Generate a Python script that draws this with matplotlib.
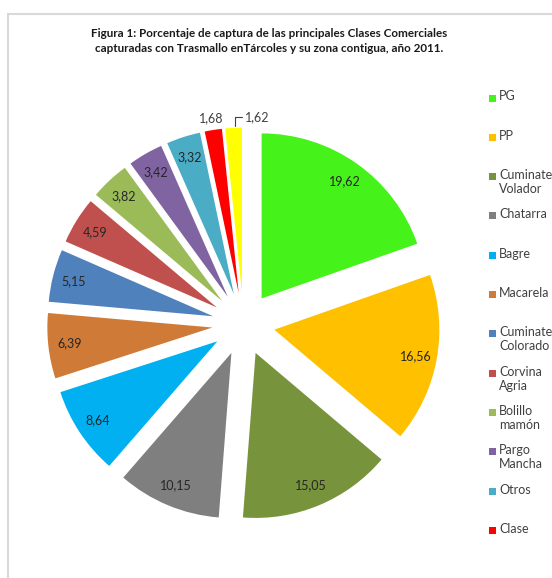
import numpy as np
import matplotlib
matplotlib.use("Agg")
import matplotlib.pyplot as plt
from matplotlib.patches import Rectangle

plt.rcParams['font.family'] = ['Lato', 'DejaVu Sans']

# data
clases = ['PG', 'PP', 'Cuminate\nVolador', 'Chatarra', 'Bagre', 'Macarela',
          'Cuminate\nColorado', 'Corvina\nAgria', 'Bolillo\nmamón',
          'Pargo\nMancha', 'Otros', 'Clase', '']
porcentajes = [19.62, 16.56, 15.05, 10.15, 8.64, 6.39, 5.15, 4.59, 3.82,
               3.42, 3.32, 1.68, 1.62]
colores = ['#45F21A', '#FFC000', '#77933C', '#7F7F7F', '#00B0F0', '#CF7B37',
           '#4F81BD', '#C0504D', '#9BBB59', '#8064A2', '#4BACC6', '#FF0000',
           '#FFFF00']

W, H = 552, 578
fig = plt.figure(figsize=(W / 100, H / 100), dpi=100)

# grey chart frame (cut off at right and bottom)
fig.patches.append(Rectangle((8 / W, -0.1), 1.2, 1.1 - 14 / H, fill=False,
                             edgecolor='#D9D9D9', linewidth=1.5,
                             transform=fig.transFigure, figure=fig))

fig.text(269 / W, 1 - 28 / H,
         'Figura 1: Porcentaje de captura de las principales Clases Comerciales\n'
         'capturadas con Trasmallo enTárcoles y su zona contigua, año 2011.',
         ha='center', va='top', fontsize=8.4, fontweight='bold',
         color='#1a1a1a', linespacing=1.4)

# pie axes: 1 data unit = 165 px, centre at (243.5, 324) px
R = 165.0
cx, cy = 243.5, 324.0
half = 1.45
ax = fig.add_axes([(cx - half * R) / W, (H - cy - half * R) / H,
                   2 * half * R / W, 2 * half * R / H])

wedges, _ = ax.pie(porcentajes, colors=colores, startangle=90,
                   counterclock=False, explode=[0.19] * len(porcentajes),
                   radius=1, wedgeprops=dict(linewidth=0))
# pie() resets the limits, so set them afterwards
ax.set_xlim(-half, half)
ax.set_ylim(-half, half)
ax.set_aspect('equal')
ax.axis('off')

for i, w in enumerate(wedges):
    ang = np.deg2rad((w.theta1 + w.theta2) / 2)
    x0, y0 = w.center
    txt = ('%.2f' % porcentajes[i]).replace('.', ',')
    if i < len(wedges) - 2:
        ax.text(x0 + 0.87 * np.cos(ang), y0 + 0.87 * np.sin(ang), txt,
                ha='center', va='center', fontsize=9, color='#262626')
    elif i == len(wedges) - 2:
        ax.text(x0 + 1.07 * np.cos(ang), y0 + 1.07 * np.sin(ang), txt,
                ha='center', va='center', fontsize=9, color='#404040')
    else:
        px, py = x0 + 1.0 * np.cos(ang), y0 + 1.0 * np.sin(ang)
        ax.annotate(txt, xy=(px + 0.01, py + 0.01),
                    xytext=(px + 0.07, py + 0.065),
                    ha='left', va='center', fontsize=9, color='#404040',
                    arrowprops=dict(arrowstyle='-', color='#404040', lw=0.8,
                                    shrinkA=0, shrinkB=0,
                                    connectionstyle='angle,angleA=0,angleB=90,rad=0'))

# legend drawn by hand to match the Excel layout
for i, lab in enumerate(clases):
    if not lab:
        continue
    yc = 98 + 39.3 * i
    fig.patches.append(Rectangle((489 / W, 1 - (yc + 3.5) / H), 7 / W, 7 / H,
                                 facecolor=colores[i], edgecolor='none',
                                 transform=fig.transFigure, figure=fig))
    fig.text(499 / W, 1 - (yc - 7.5) / H, lab, ha='left', va='top',
             fontsize=9, color='#404040', linespacing=1.2)

fig.savefig('out.png', dpi=100, facecolor='white')
